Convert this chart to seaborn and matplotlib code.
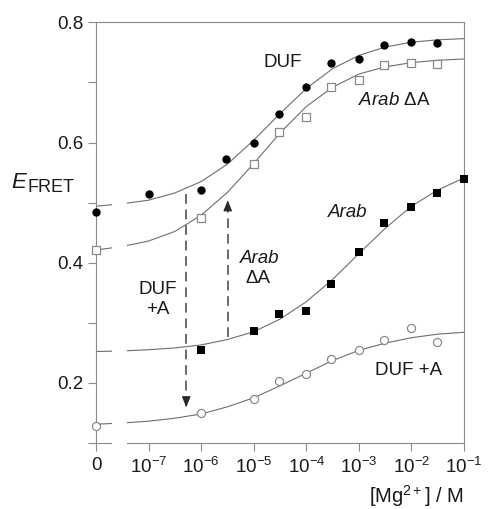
import matplotlib
matplotlib.use("Agg")
import matplotlib.pyplot as plt
import numpy as np
import pandas as pd
import seaborn as sns

# measured E_FRET values; [Mg2+] in M, 0 = no added Mg2+
duf_mg = [0, 1e-7, 1e-6, 3e-6, 1e-5, 3e-5, 1e-4, 3e-4, 1e-3, 3e-3, 1e-2, 3e-2]
duf_e = [0.484, 0.515, 0.521, 0.572, 0.599, 0.648, 0.692, 0.733, 0.739, 0.762, 0.768, 0.765]

arab_da_mg = [0, 1e-6, 1e-5, 3e-5, 1e-4, 3e-4, 1e-3, 3e-3, 1e-2, 3e-2]
arab_da_e = [0.421, 0.474, 0.565, 0.617, 0.642, 0.693, 0.704, 0.729, 0.733, 0.731]

arab_mg = [1e-6, 1e-5, 3e-5, 1e-4, 3e-4, 1e-3, 3e-3, 1e-2, 3e-2, 1e-1]
arab_e = [0.254, 0.287, 0.314, 0.319, 0.365, 0.418, 0.466, 0.493, 0.516, 0.540]

duf_a_mg = [0, 1e-6, 1e-5, 3e-5, 1e-4, 3e-4, 1e-3, 3e-3, 1e-2, 3e-2]
duf_a_e = [0.128, 0.149, 0.173, 0.203, 0.214, 0.239, 0.254, 0.271, 0.291, 0.268]

# fitted binding curves, every half decade (log10 [Mg2+])
fit_log_mg = [-8, -7.5, -7, -6.5, -6, -5.5, -5, -4.5, -4, -3.5, -3, -2.5, -2, -1.5, -1]
duf_fit = [0.494, 0.498, 0.504, 0.516, 0.535, 0.564, 0.604, 0.648, 0.690, 0.723,
           0.745, 0.759, 0.767, 0.771, 0.773]
arab_da_fit = [0.421, 0.427, 0.436, 0.452, 0.479, 0.517, 0.565, 0.616, 0.660, 0.692,
               0.714, 0.726, 0.733, 0.737, 0.739]
arab_fit = [0.252, 0.253, 0.255, 0.258, 0.263, 0.272, 0.285, 0.306, 0.335, 0.372,
            0.415, 0.457, 0.494, 0.521, 0.541]
duf_a_fit = [0.131, 0.133, 0.136, 0.141, 0.148, 0.160, 0.175, 0.195, 0.216, 0.237,
             0.254, 0.266, 0.275, 0.281, 0.284]

# dashed arrows: x position [M], start and end E_FRET
arrow_mg = [5.2e-7, 3.2e-6]
arrow_from = [0.515, 0.277]
arrow_to = [0.159, 0.504]

tick_mg = [1e-8, 1e-7, 1e-6, 1e-5, 1e-4, 1e-3, 1e-2, 1e-1]
tick_labels = ["0"] + ["10$^{\\mathregular{%d}}$" % p for p in range(-7, 0)]

ZERO_AT = 1e-8  # where the "0" point sits on the log axis
GREY = "#8a8a8a"
INK = "#1a1a1a"


def to_axis(mg):
    return [m if m > 0 else ZERO_AT for m in mg]


sns.set_theme(style="ticks")
plt.rcParams["font.family"] = ["Liberation Sans", "DejaVu Sans"]
plt.rcParams["mathtext.fontset"] = "custom"
plt.rcParams["mathtext.rm"] = "Liberation Sans"
plt.rcParams["mathtext.it"] = "Liberation Sans:italic"

fig = plt.figure(figsize=(4.9, 5.09), dpi=100)
ax = fig.add_axes([0.196, 0.130, 0.751, 0.826])
ax.set_xscale("log")

# fit curves
fits = pd.DataFrame({
    "mg": np.tile(10.0 ** np.array(fit_log_mg), 4),
    "E": duf_fit + arab_da_fit + arab_fit + duf_a_fit,
    "series": np.repeat(["duf", "arab_da", "arab", "duf_a"], len(fit_log_mg)),
})
sns.lineplot(data=fits, x="mg", y="E", units="series", estimator=None,
             color="#6e6e6e", linewidth=0.8, ax=ax, zorder=2)

# data points
sns.scatterplot(x=to_axis(duf_mg), y=duf_e, marker="o", s=36, color="black",
                edgecolor="black", linewidth=0, ax=ax, zorder=4, clip_on=False)
sns.scatterplot(x=to_axis(arab_da_mg), y=arab_da_e, marker="s", s=30, color="white",
                edgecolor=GREY, linewidth=0.9, ax=ax, zorder=4, clip_on=False)
sns.scatterplot(x=to_axis(arab_mg), y=arab_e, marker="s", s=28, color="black",
                edgecolor="black", linewidth=0, ax=ax, zorder=4, clip_on=False)
sns.scatterplot(x=to_axis(duf_a_mg), y=duf_a_e, marker="o", s=34, color="white",
                edgecolor=GREY, linewidth=0.9, ax=ax, zorder=4, clip_on=False)

# dashed arrows
for xm, y0, y1 in zip(arrow_mg, arrow_from, arrow_to):
    ax.plot([xm, xm], [y0, y1], color="#6a6a6a", linewidth=1.4,
            linestyle=(0, (5, 3)), zorder=3)
    ax.annotate("", xy=(xm, y1), xytext=(xm, y1 - 0.012 * np.sign(y1 - y0)),
                arrowprops=dict(arrowstyle="-|>,head_length=0.55,head_width=0.22",
                                color="#2a2a2a", linewidth=0.8, shrinkA=0, shrinkB=0),
                zorder=3)

# break in the axis between "0" and 10^-7
ax.axvspan(2.0e-8, 3.9e-8, ymin=-0.02, ymax=0.9, color="white", zorder=3,
           clip_on=False, linewidth=0)

ax.set_xlim(1e-8, 1e-1)
ax.set_ylim(0.1, 0.8)
ax.set_xticks(tick_mg)
ax.set_xticklabels(tick_labels)
ax.xaxis.set_minor_locator(matplotlib.ticker.NullLocator())
ax.set_yticks([0.2, 0.4, 0.6, 0.8])
ax.set_yticklabels(["0.2", "0.4", "0.6", "0.8"])
ax.set_yticks([0.1, 0.3, 0.5, 0.7], minor=True)
ax.tick_params(which="both", direction="out", length=6, width=0.8, color=GREY,
               labelsize=13.5, labelcolor=INK)
ax.tick_params(axis="x", pad=4)
ax.tick_params(axis="y", pad=3)
for sp in ax.spines.values():
    sp.set_color(GREY)
    sp.set_linewidth(0.8)
ax.set_xlabel("")
ax.set_ylabel("")

# curve labels
lab = dict(fontsize=13.5, color=INK)
ax.text(3.6e-5, 0.734, "DUF", ha="center", va="center", **lab)
ax.text(9.5e-4, 0.670, "$\\mathit{Arab}$ ΔA", ha="left", va="center", **lab)
ax.text(6.0e-4, 0.483, "Arab", style="italic", ha="center", va="center", **lab)
ax.text(8.7e-3, 0.220, "DUF +A", ha="center", va="center", **lab)
ax.text(1.5e-7, 0.339, "DUF\n+A", ha="center", va="center", linespacing=1.2, **lab)
ax.text(1.3e-5, 0.4076, "Arab", style="italic", ha="center", va="center", **lab)
ax.text(1.2e-5, 0.374, "ΔA", ha="center", va="center", **lab)

# axis titles
fig.text(0.024, 0.641, "E", style="italic", fontsize=16, color=INK, ha="left", va="center")
fig.text(0.057, 0.631, "FRET", fontsize=13, color=INK, ha="left", va="center")
fig.text(0.947, 0.026, "[Mg$^{\\mathregular{2+}}$] / M", fontsize=14.5, color=INK,
         ha="right", va="center")

fig.savefig("out.png", dpi=100)
plt.close(fig)
